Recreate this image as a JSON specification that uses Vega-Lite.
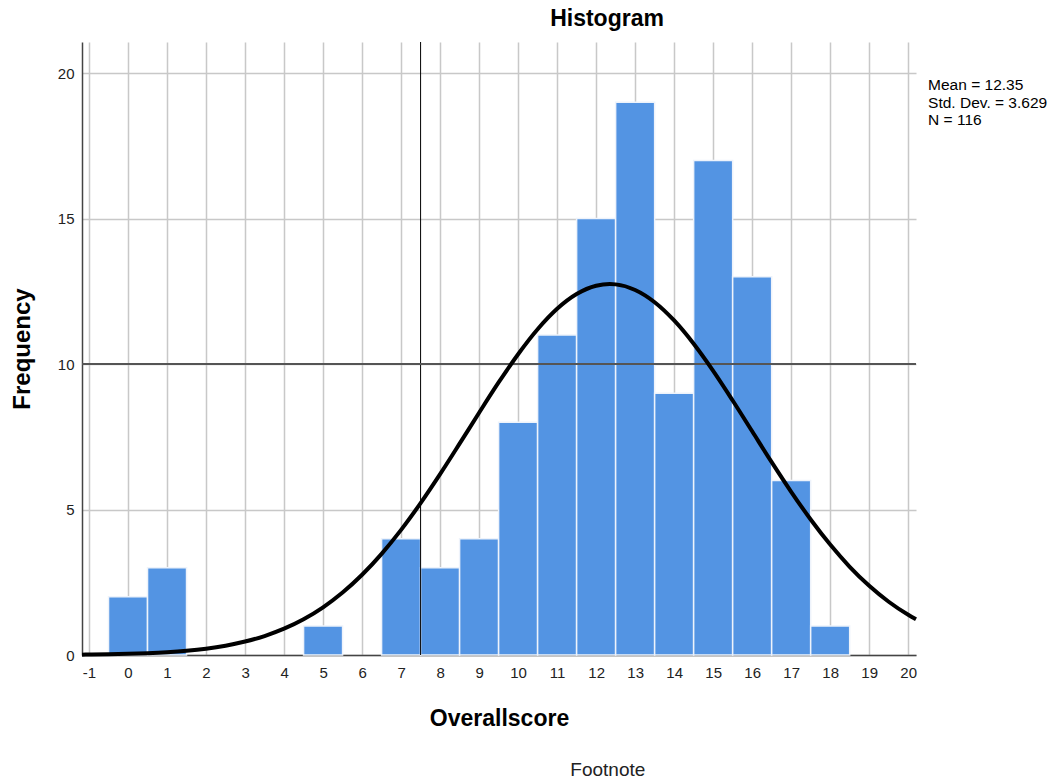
{
  "$schema": "https://vega.github.io/schema/vega-lite/v6.json",
  "autosize": {"type": "none"},
  "padding": {"left": 82, "top": 42, "right": 139, "bottom": 126},
  "width": 834,
  "height": 613,
  "background": "white",
  "title": {
    "text": "Histogram",
    "font": "Liberation Sans",
    "fontSize": 23,
    "fontWeight": "bold",
    "color": "#000000",
    "anchor": "middle",
    "dx": 108,
    "baseline": "alphabetic",
    "offset": -7
  },
  "config": {
    "view": {"stroke": null},
    "font": "Liberation Sans",
    "axis": {"labelOverlap": false, "labelBound": false, "labelFlush": false}
  },
  "layer": [
    {
      "data": {"values": [
        {"score": 0, "start": -0.5, "end": 0.5, "count": 2},
        {"score": 1, "start": 0.5, "end": 1.5, "count": 3},
        {"score": 5, "start": 4.5, "end": 5.5, "count": 1},
        {"score": 7, "start": 6.5, "end": 7.5, "count": 4},
        {"score": 8, "start": 7.5, "end": 8.5, "count": 3},
        {"score": 9, "start": 8.5, "end": 9.5, "count": 4},
        {"score": 10, "start": 9.5, "end": 10.5, "count": 8},
        {"score": 11, "start": 10.5, "end": 11.5, "count": 11},
        {"score": 12, "start": 11.5, "end": 12.5, "count": 15},
        {"score": 13, "start": 12.5, "end": 13.5, "count": 19},
        {"score": 14, "start": 13.5, "end": 14.5, "count": 9},
        {"score": 15, "start": 14.5, "end": 15.5, "count": 17},
        {"score": 16, "start": 15.5, "end": 16.5, "count": 13},
        {"score": 17, "start": 16.5, "end": 17.5, "count": 6},
        {"score": 18, "start": 17.5, "end": 18.5, "count": 1}
      ]},
      "mark": {"type": "rect", "color": "#5394e3", "stroke": "#eef3fb", "strokeWidth": 1.5},
      "encoding": {
        "x": {
          "field": "start", "type": "quantitative",
          "scale": {"domain": [-1.18, 20.2], "nice": false, "zero": false},
          "axis": {
            "title": "Overallscore",
            "titleFont": "Liberation Sans",
            "titleFontSize": 23,
            "titleFontWeight": "bold",
            "titleColor": "#000000",
            "titlePadding": 27,
            "values": [-1,0,1,2,3,4,5,6,7,8,9,10,11,12,13,14,15,16,17,18,19,20],
            "tickCount": 40,
            "labelExpr": "'' + datum.value",
            "labelOverlap": false,
            "labelFontSize": 15,
            "labelColor": "#222222",
            "labelPadding": 10,
            "labelFont": "Liberation Sans",
            "ticks": false,
            "domainColor": "#444444",
            "domainWidth": 1.5,
            "grid": true,
            "gridColor": "#c8c8c8",
            "gridWidth": 1.5
          }
        },
        "x2": {"field": "end"},
        "y": {
          "field": "count", "type": "quantitative",
          "scale": {"domain": [0, 21.07], "nice": false, "zero": true},
          "axis": {
            "title": "Frequency",
            "titleFont": "Liberation Sans",
            "titleFontSize": 24,
            "titleFontWeight": "bold",
            "titleColor": "#000000",
            "titlePadding": 23,
            "values": [0, 5, 10, 15, 20],
            "labelOverlap": false,
            "labelFontSize": 15,
            "labelColor": "#222222",
            "labelPadding": 8,
            "labelFont": "Liberation Sans",
            "ticks": false,
            "domainColor": "#444444",
            "domainWidth": 1.5,
            "grid": true,
            "gridColor": "#c8c8c8",
            "gridWidth": 1.5
          }
        },
        "y2": {"datum": 0}
      }
    },
    {
      "data": {"values": [{"ref": 7.5}]},
      "mark": {"type": "rule", "color": "#000000", "strokeWidth": 1},
      "encoding": {
        "x": {"field": "ref", "type": "quantitative", "scale": {"domain": [-1.18, 20.2], "nice": false, "zero": false}}
      }
    },
    {
      "data": {"values": [{"ref": 10}]},
      "mark": {"type": "rule", "color": "#555555", "strokeWidth": 2},
      "encoding": {
        "y": {"field": "ref", "type": "quantitative", "scale": {"domain": [0, 21.07], "nice": false}}
      }
    },
    {
      "data": {"values": [
        {"x": -1.18, "y": 0.012}, {"x": -1, "y": 0.015}, {"x": -0.5, "y": 0.024}, {"x": 0, "y": 0.039},
        {"x": 0.5, "y": 0.062}, {"x": 1, "y": 0.096}, {"x": 1.5, "y": 0.146}, {"x": 2, "y": 0.218},
        {"x": 2.5, "y": 0.321}, {"x": 3, "y": 0.462}, {"x": 3.5, "y": 0.652}, {"x": 4, "y": 0.904},
        {"x": 4.5, "y": 1.229}, {"x": 5, "y": 1.640}, {"x": 5.5, "y": 2.147}, {"x": 6, "y": 2.758},
        {"x": 6.5, "y": 3.477}, {"x": 7, "y": 4.301}, {"x": 7.5, "y": 5.220}, {"x": 8, "y": 6.216},
        {"x": 8.5, "y": 7.263}, {"x": 9, "y": 8.327}, {"x": 9.5, "y": 9.367}, {"x": 10, "y": 10.338},
        {"x": 10.5, "y": 11.196}, {"x": 11, "y": 11.898}, {"x": 11.5, "y": 12.405}, {"x": 12, "y": 12.691},
        {"x": 12.35, "y": 12.75}, {"x": 12.5, "y": 12.739}, {"x": 13, "y": 12.547}, {"x": 13.5, "y": 12.126},
        {"x": 14, "y": 11.498}, {"x": 14.5, "y": 10.698}, {"x": 15, "y": 9.766}, {"x": 15.5, "y": 8.748},
        {"x": 16, "y": 7.689}, {"x": 16.5, "y": 6.630}, {"x": 17, "y": 5.610}, {"x": 17.5, "y": 4.658},
        {"x": 18, "y": 3.795}, {"x": 18.5, "y": 3.033}, {"x": 19, "y": 2.379}, {"x": 19.5, "y": 1.831},
        {"x": 20, "y": 1.382}, {"x": 20.2, "y": 1.229}
      ]},
      "mark": {"type": "line", "color": "#000000", "strokeWidth": 4, "interpolate": "monotone"},
      "encoding": {
        "x": {"field": "x", "type": "quantitative", "scale": {"domain": [-1.18, 20.2], "nice": false, "zero": false}},
        "y": {"field": "y", "type": "quantitative", "scale": {"domain": [0, 21.07], "nice": false}}
      }
    },
    {
      "data": {"values": [{"x": 20.51, "y": 19.83, "label": "Mean = 12.35\nStd. Dev. = 3.629\nN = 116"}]},
      "mark": {"type": "text", "align": "left", "baseline": "top", "fontSize": 15.5, "lineHeight": 17.5, "font": "Liberation Sans", "color": "#000000", "lineBreak": "\n"},
      "encoding": {
        "x": {"field": "x", "type": "quantitative", "scale": {"domain": [-1.18, 20.2], "nice": false, "zero": false}},
        "y": {"field": "y", "type": "quantitative", "scale": {"domain": [0, 21.07], "nice": false}},
        "text": {"field": "label"}
      }
    },
    {
      "data": {"values": [{"x": 12.3, "y": -3.95, "label": "Footnote"}]},
      "mark": {"type": "text", "align": "center", "baseline": "middle", "fontSize": 19, "font": "Liberation Sans", "color": "#222222"},
      "encoding": {
        "x": {"field": "x", "type": "quantitative", "scale": {"domain": [-1.18, 20.2], "nice": false, "zero": false}},
        "y": {"field": "y", "type": "quantitative", "scale": {"domain": [0, 21.07], "nice": false}},
        "text": {"field": "label"}
      }
    }
  ]
}
